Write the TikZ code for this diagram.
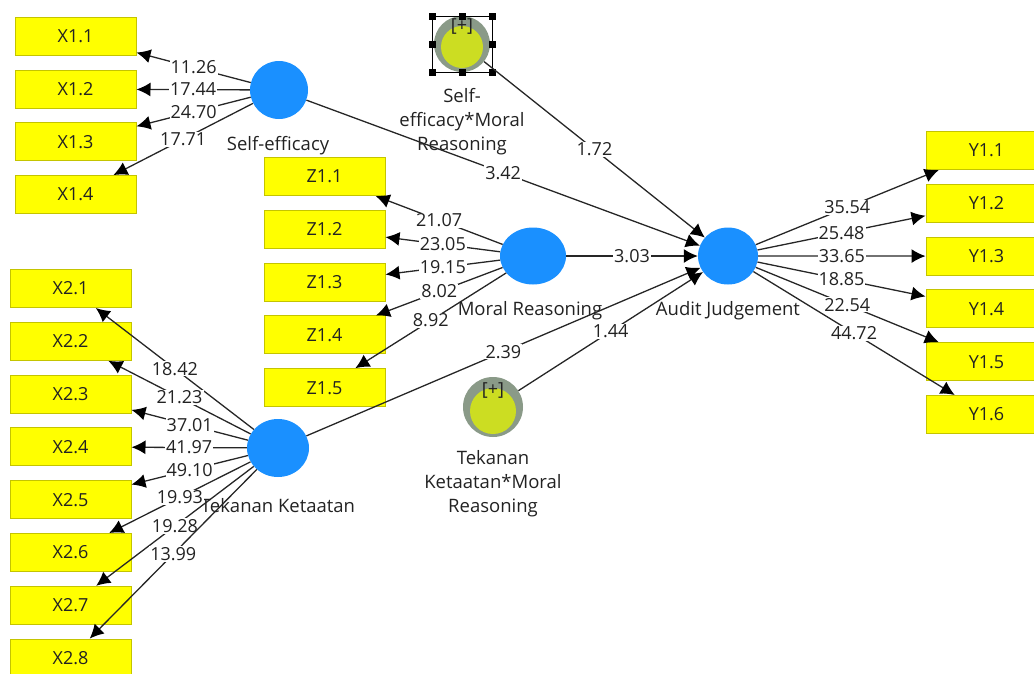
\documentclass[tikz,border=0pt]{standalone}
\usepackage{fontspec}
\setmainfont{Open Sans}
\usetikzlibrary{arrows.meta,shapes.geometric}

\definecolor{indfill}{HTML}{FFFF00}
\definecolor{indline}{HTML}{C4C400}
\definecolor{lvblue}{HTML}{1A90FF}
\definecolor{ringgrey}{HTML}{8A9A88}
\definecolor{intfill}{HTML}{CCDD22}
\definecolor{inktext}{HTML}{222222}

\begin{document}
\begin{tikzpicture}[
  x=1pt, y=-1pt,
  every node/.style={font=\fontsize{18}{24}\selectfont, text=inktext},
  box/.style={draw=indline, line width=1pt, fill=indfill, minimum width=121pt, minimum height=38pt, inner sep=0pt},
  lv/.style={ellipse, fill=lvblue, minimum width=60pt, minimum height=58pt, inner sep=0pt},
  inter/.style={circle, fill=ringgrey, minimum size=58pt, inner sep=0pt},
  lvtag/.style={align=center, font=\fontsize{18.5}{24}\selectfont},
  coef/.style={fill=white, inner sep=1pt},
  arrow/.style={-{Latex[length=14pt,width=14pt,color=black]}, line width=1.3pt, draw=black!85}
]
\useasboundingbox (0,0) rectangle (1034,673);

% Latent variables
\node[lv, minimum width=58pt] (se) at (279,90) {};
\node[lv, minimum width=66pt, minimum height=57pt] (mr) at (533,256) {};
\node[lv, minimum width=62pt] (tk) at (278,448) {};
\node[lv, minimum height=57pt] (aj) at (728,256) {};

\node[lvtag] (se-tag) at (278,146) {Self-efficacy};
\node[lvtag] (mr-tag) at (530,311) {Moral Reasoning};
\node[lvtag] (tk-tag) at (278,506) {Tekanan Ketaatan};
\node[lvtag] (aj-tag) at (728,311) {Audit Judgement};

% Interaction terms
\node[inter, minimum size=56pt] (semr) at (462,44) {};
\fill[intfill] ([yshift=-3pt]semr.center) circle (21pt);
\node (semr-plus) at (462,26) {[+]};
\node[lvtag] (semr-tag) at (462,122) {Self-\\efficacy*Moral\\Reasoning};

\node[inter, minimum size=60pt] (tkmr) at (493,407) {};
\fill[intfill] ([yshift=-4pt]tkmr.center) circle (23pt);
\node (tkmr-plus) at (493,390) {[+]};
\node[lvtag] (tkmr-tag) at (493,484) {Tekanan\\Ketaatan*Moral\\Reasoning};

% selection frame with handles
\draw[line width=1pt] (432,16) rectangle (492,72);
\foreach \hx/\hy in {432/16, 462/16, 492/16, 432/44, 492/44, 432/72, 462/72, 492/72}
  \fill (\hx,\hy) +(-3.5,-3.5) rectangle +(3.5,3.5);

% Indicators
\foreach \i in {1,...,4}
  \node[box] (x1\i) at (75.5,{36.5+52.7*(\i-1)}) {X1.\i};
\foreach \i in {1,...,5}
  \node[box] (z1\i) at (324.5,{176.5+52.8*(\i-1)}) {Z1.\i};
\foreach \i in {1,...,8}
  \node[box] (x2\i) at (70.5,{288.5+52.8*(\i-1)}) {X2.\i};
\foreach \i in {1,...,6}
  \node[box] (y1\i) at (986.5,{150.5+52.8*(\i-1)}) {Y1.\i};

% Outer loadings
\foreach \i/\v in {1/11.26, 2/17.44, 3/24.70, 4/17.71}
  \draw[arrow] (se) -- node[coef] {\v} (x1\i);
\foreach \i/\v in {1/21.07, 2/23.05, 3/19.15, 4/8.02, 5/8.92}
  \draw[arrow] (mr) -- node[coef] {\v} (z1\i);
\foreach \i/\v in {1/18.42, 2/21.23, 3/37.01, 4/41.97, 5/49.10, 6/19.93, 7/19.28, 8/13.99}
  \draw[arrow] (tk) -- node[coef] {\v} (x2\i);
\foreach \i/\v in {1/35.54, 2/25.48, 3/33.65, 4/18.85, 5/22.54, 6/44.72}
  \draw[arrow] (aj) -- node[coef] {\v} (y1\i);

% Structural paths
\draw[arrow] (se) -- node[coef] {3.42} (aj);
\draw[arrow] (mr) -- node[coef] {3.03} (aj);
\draw[arrow] (semr) -- node[coef] {1.72} (aj);
\draw[arrow] (tk) -- node[coef] {2.39} (aj);
\draw[arrow] (tkmr) -- node[coef] {1.44} (aj);

\end{tikzpicture}
\end{document}
